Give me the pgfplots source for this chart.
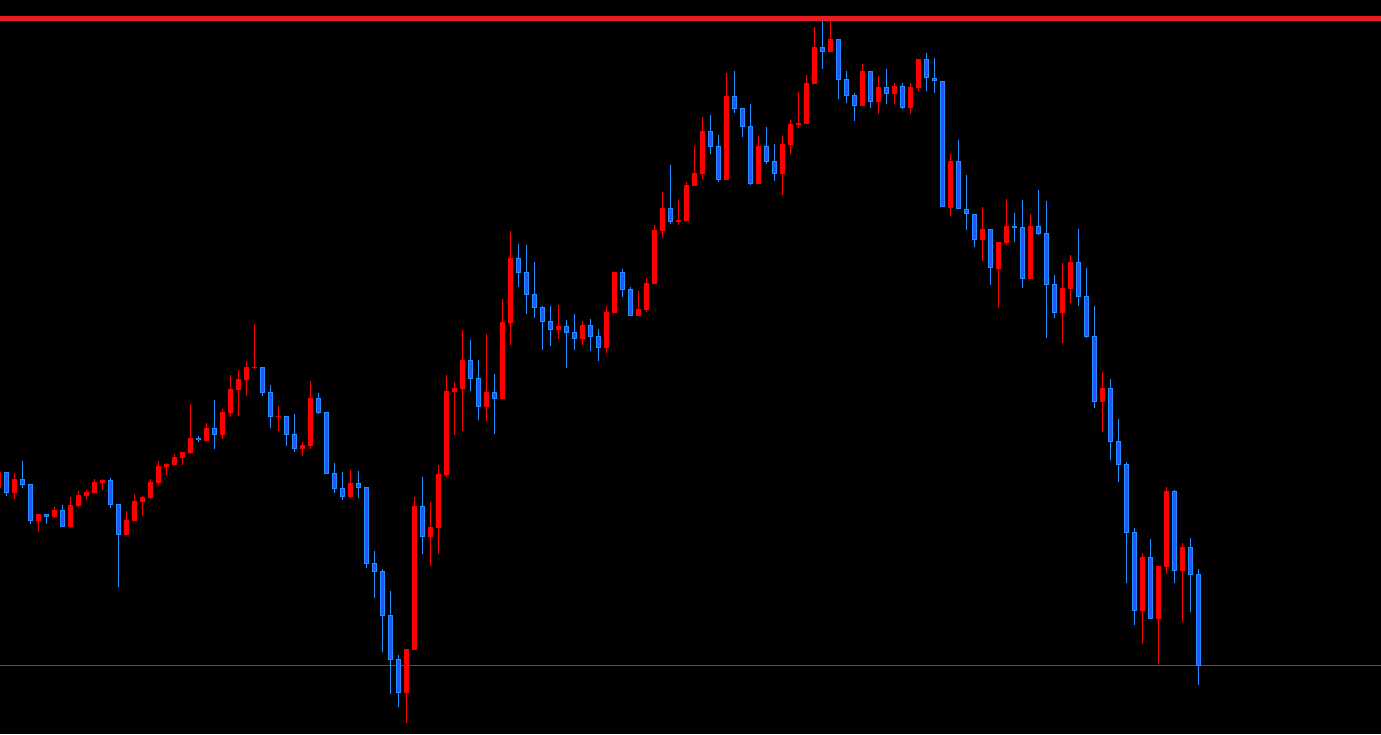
\documentclass[border=0pt]{standalone}
\usepackage{pgfplots}
\pgfplotsset{compat=1.18}
\usepackage{pgfplotstable}

\definecolor{bull}{RGB}{255,0,0}
\definecolor{bearedge}{RGB}{30,144,255}
\definecolor{bearfill}{RGB}{48,80,255}
\definecolor{levelred}{RGB}{237,28,36}
\definecolor{levelgray}{RGB}{80,78,120}

% candles in screen units (y grows downward): index, high, low, body top, body bottom
\pgfplotstableread{
k hi lo top bot
-1 472 488 472 487.7
1 473 499 479 492.7
4 514 531.7 514 520.7
6 507 517.7 509.7 516.7
8 497 528 505 526.7
9 491 507 495 505.7
10 490 499.7 491.7 495.7
11 479 492.7 481.7 492.7
12 479 489.7 479.7 482.7
15 511 534.7 520 534.7
16 494 520.7 501 520.7
17 496 515.7 497 501.7
18 479 498.7 482 497.7
19 461 484.7 466 482.7
20 463 474.7 464 466.7
21 454 464.7 457 464.7
22 452 464.7 452 457.7
23 404 454 438 453
25 423 440.7 428 440.7
27 409 438.7 412 434.7
28 375 416.7 389 413
29 370 415.7 379 389.7
30 361 395.7 367 379.7
31 324 369.3 367 368.3
34 406 431 416 417
37 442 455.7 445 448.7
38 381 449 398 446
43 470 497.7 483 497
50 649 722.7 649 692.7
51 497 649.7 506 649.7
53 502 565.7 527.3 536.7
54 465 553.7 474 527.7
55 375 476.7 391 475
56 382 435 388 391.7
57 330 431 360 389
60 334 421 392 406.7
62 299 399 322 399
63 231 345 258 323
69 305 338.7 326 329.7
72 321 344.7 325 338.7
75 306 352.7 312 347.7
76 272 312.7 272 312.7
79 291 315.7 309 315.7
80 278 311.7 283 309.7
81 225 283.7 230 283.7
82 192 237.7 208 230.7
84 200 224.7 220 221.7
85 182 220.7 185 220.7
86 146 185.7 173 185.7
87 117 178.7 131 173.7
90 73 179.7 96 179.7
94 136 183.7 146 183.7
97 136 194.7 144 173.7
98 120 153.7 124 144.7
99 92 128 122.7 124.7
100 75 124 83 124
101 27 83.7 47 83.7
103 21 51.7 39 51.7
107 64 105.7 71 105.7
109 76 113.7 87 101.7
111 83 103.7 86 93.7
113 83 113.7 87 107.7
114 59 90.7 59 87.7
118 154 215.7 161 207.7
122 207 260.7 229 240.3
124 242 307.7 242 268.7
125 199 244.7 226 242.7
128 214 278.7 226 278.7
132 263 342.7 288 312.7
133 255 302.7 262 288.7
137 372 431.7 388 401.7
142 553 643.7 557 610.7
144 566 663.7 566 618.7
145 487 573.7 491 566.7
147 543 621.7 547 570.7
}\upcandles

\pgfplotstableread{
k hi lo top bot
0 472 495.7 472 492.7
2 461 487.7 479 484.7
3 484 523.7 484 520.7
5 514 523.7 514 516.7
7 505 526.7 510 526.7
13 478 507.7 480 504.7
14 504 586.7 504 534.7
24 436 441.7 438 440.3
26 400 448.7 428 434.7
32 367 395.7 367 392.7
33 385 427.7 392.3 416.7
35 416 446 416 434.7
36 414 451.7 434 448.7
39 393 413.7 398 413
40 412 473.7 412 473.7
41 463 492.7 473 488.7
42 472 499.7 488 497
44 471 497.7 483 487.7
45 487 567.7 487 563.7
46 551 597.7 563 571.7
47 569 651.7 571 615.7
48 591 693.7 615 659.7
49 655 706.7 659 692.7
52 477 553.7 506 536.7
58 340 390.7 360 378.7
59 360 420 378 406.7
61 374 433.7 392 398.7
64 244 286.7 258 272.7
65 245 314 272 294.7
66 262 317.7 294 307.7
67 306 349.7 307 321.7
68 306 345.7 321 329.7
70 320 367.7 326 332.7
71 314 349.7 332 338.7
73 319 350.7 325 336.7
74 329 360.7 336 347.7
77 269 296.7 272 289.7
78 287 315.7 289 315.7
83 165 223.7 208 221.7
88 115 153.7 131 146.7
89 135 181.7 146 179.7
91 71 112.7 96 108.7
92 108 136.7 108 126.7
93 104 184.7 126 183.7
95 127 163.7 146 161.7
96 144 180.7 161 173.7
102 21 68.7 47 51.7
104 39 98.7 39 79.7
105 71 102.7 79 95.7
106 92.7 120.7 95 105.7
108 71 107.7 71 101.7
110 69 103.7 87 93.7
112 83 108.7 86 107.7
115 53 90.7 59 78.3
116 58 92.7 78 81.3
117 81 207.3 81 207.3
119 140 209.3 161 209.3
120 175 229.7 209 214.3
121 214 246.7 214 240.3
123 229 284.7 229 268.3
126 213 241.7 226 227.7
127 200 287.7 227 278.7
129 190 234.7 226 233.7
130 201 337.7 233 284.7
131 275 317.7 284 312.7
134 229 305.7 262 296.7
135 268 337.7 296 336.7
136 306 407.7 336 401.7
138 379 459.7 388 441.7
139 419 481.7 441 464.7
140 462 582.7 464 532.7
141 528 624.7 532 610.7
143 539 618.7 557 618.7
146 490 582.7 491 570.7
148 538 611.7 547 574.7
149 569 684.7 574 665.7
}\downcandles

\pgfplotsset{
  candle/.style 2 args={draw=none, mark=none, forget plot,
    error bars/.cd, y dir=plus, y explicit, error mark=none,
    error bar style={draw=#1, line width=#2}},
}

\begin{document}
\begin{tikzpicture}
\begin{axis}[
  scale only axis,
  width=690.5pt, height=367pt,
  xmin=-0.7875, xmax=171.8375,
  ymin=0, ymax=734, y dir=reverse,
  ticks=none,
  axis line style={draw=none},
  axis background/.style={fill=black},
  clip=true,
]
% horizontal levels
\addplot[draw=levelgray, line width=0.55pt, forget plot] coordinates {(-2,665.3) (175,665.3)};
\addplot[draw=levelred, line width=2.3pt, forget plot] coordinates {(-2,18.3) (175,18.3)};

% bullish (red)
\addplot[candle={bull}{0.5pt}] table[x=k, y=hi, y error plus expr=\thisrow{lo}-\thisrow{hi}] {\upcandles};
\addplot[candle={bull}{2.5pt}] table[x=k, y=top, y error plus expr=\thisrow{bot}-\thisrow{top}] {\upcandles};

% bearish (blue)
\addplot[candle={bearedge}{0.5pt}] table[x=k, y=hi, y error plus expr=\thisrow{lo}-\thisrow{hi}] {\downcandles};
\addplot[candle={bearedge}{2.5pt}] table[x=k, y=top, y error plus expr=\thisrow{bot}-\thisrow{top}] {\downcandles};
\addplot[candle={bearfill}{1.5pt}] table[x=k, y expr=\thisrow{top}+1, y error plus expr={max(\thisrow{bot}-\thisrow{top}-2,0)}] {\downcandles};
\end{axis}
\end{tikzpicture}
\end{document}
